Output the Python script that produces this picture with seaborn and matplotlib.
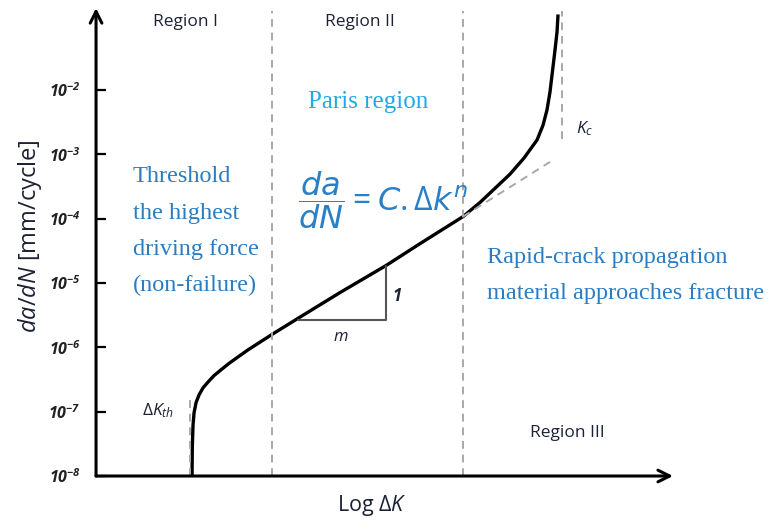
import numpy as np
import pandas as pd
import matplotlib
matplotlib.use("Agg")
import matplotlib.pyplot as plt
import seaborn as sns

# Fatigue crack growth curve: x is log(delta K) in arbitrary units, y is log10(da/dN)
curve_logk = [0.96, 0.963, 0.97, 0.98, 1.00, 1.03, 1.07, 1.12, 1.18, 1.25, 1.33,
              1.42, 1.52, 1.63, 1.76, 2.02, 2.44, 2.90, 3.24, 3.67, 3.84, 3.99,
              4.14, 4.28, 4.41, 4.47, 4.51, 4.54, 4.57, 4.59, 4.61, 4.62]
curve_log_rate = [-8.00, -7.53, -7.21, -7.02, -6.86, -6.74, -6.63, -6.54, -6.44,
                  -6.35, -6.25, -6.15, -6.04, -5.93, -5.80, -5.55, -5.15, -4.73,
                  -4.39, -3.97, -3.75, -3.53, -3.31, -3.06, -2.78, -2.55, -2.31,
                  -2.03, -1.64, -1.38, -1.10, -0.83]

# Paris-law extension beyond region II
paris_ext_logk = [3.67, 4.54]
paris_ext_log_rate = [-3.97, -3.12]

# Slope triangle (run m, rise 1)
tri_logk = [2.02, 2.90, 2.90]
tri_log_rate = [-5.58, -5.58, -4.73]

# Region boundaries and characteristic values
threshold_k = 0.94
region_bounds = [1.76, 3.67]
critical_k = 4.66

ytick_exps = [-2, -3, -4, -5, -6, -7, -8]
ytick_labels = [f"$10^{{{e}}}$" for e in ytick_exps]

blue = "#2b7cc0"
eq_blue = "#2a80c6"
cyan = "#1eaae6"
dark = "#1c2233"
grey = "#a8a8a8"

sns.set_theme(style="white")
plt.rcParams["font.family"] = ["Open Sans", "DejaVu Sans"]
plt.rcParams["mathtext.fontset"] = "custom"
plt.rcParams["mathtext.it"] = "Open Sans:italic"
plt.rcParams["mathtext.rm"] = "Open Sans"
plt.rcParams["mathtext.default"] = "regular"

fig = plt.figure(figsize=(7.72, 5.25), dpi=100)
ax = fig.add_axes([0.1244, 0.0933, 0.7474, 0.8914])

df = pd.DataFrame({"logk": curve_logk, "rate": 10.0 ** np.array(curve_log_rate)})
sns.lineplot(data=df, x="logk", y="rate", ax=ax, color="black", lw=2.4,
             sort=False, estimator=None, solid_joinstyle="round",
             solid_capstyle="butt")
ax.set_yscale("log")

ymin, ymax = 10 ** -8.0, 10 ** -0.73
ax.set_xlim(0, 5.77)
ax.set_ylim(ymin, ymax)

# dashed guides
dash = dict(color=grey, lw=1.4, ls=(0, (4, 3)))
for b in region_bounds:
    ax.plot([b, b], [ymin, 10 ** -0.78], **dash)
ax.plot([critical_k, critical_k], [10 ** -2.77, 10 ** -0.78], **dash)
ax.plot([threshold_k, threshold_k], [ymin, 10 ** -6.75], **dash)
ax.plot(paris_ext_logk, 10.0 ** np.array(paris_ext_log_rate), **dash)

# slope triangle
ax.plot(tri_logk, 10.0 ** np.array(tri_log_rate), color="#555555", lw=1.5)

# axes drawn as arrows
for s in ax.spines.values():
    s.set_visible(False)
for tip in [(0, 1.0), (1.0, 0)]:
    ax.annotate("", xy=tip, xytext=(0, 0), xycoords="axes fraction",
                arrowprops=dict(arrowstyle="->,head_length=0.7,head_width=0.35",
                                lw=2.2, color="black", shrinkA=0, shrinkB=0))

ax.set_xticks([])
ax.set_yticks([10.0 ** e for e in ytick_exps])
ax.set_yticklabels(ytick_labels, fontstyle="italic", fontweight="bold",
                   fontsize=11.5, color="#222222")
ax.yaxis.set_minor_locator(matplotlib.ticker.NullLocator())
ax.tick_params(axis="y", direction="in", length=7, width=1.6, color="black",
               pad=11, left=True)
ax.set_xlabel("")
ax.set_ylabel("")

# region labels
for x, v, s in [(0.89, -0.94, "Region I"), (2.64, -0.94, "Region II"),
                (4.71, -7.33, "Region III")]:
    ax.text(x, 10 ** v, s, ha="center", va="center", fontsize=12.5, color=dark)

serif = ["Liberation Serif", "DejaVu Serif"]
ax.text(2.72, 10 ** -2.19, "Paris region", ha="center", va="center", fontsize=18,
        color=cyan, family=serif)
ax.text(0.37, 10 ** -4.20, "Threshold\nthe highest\ndriving force\n(non-failure)",
        ha="left", va="center", fontsize=17.5, color=blue, family=serif,
        linespacing=1.95)
ax.text(3.91, 10 ** -4.88, "Rapid-crack propagation\nmaterial approaches fracture",
        ha="left", va="center", fontsize=17.5, color=blue, family=serif,
        linespacing=1.95)
ax.text(2.87, 10 ** -3.71, r"$\dfrac{\mathit{da}}{\mathit{dN}} = \mathit{C}.\Delta\mathit{k^{n}}$",
        ha="center", va="center", fontsize=23, color=eq_blue,
        math_fontfamily="dejavusans")

# annotations
ax.text(2.45, 10 ** -5.84, r"$\mathit{m}$", ha="center", va="center", fontsize=12,
        color=dark)
ax.text(3.01, 10 ** -5.20, "1", ha="center", va="center", fontsize=12,
        fontstyle="italic", fontweight="bold", color=dark)
ax.text(4.89, 10 ** -2.60, r"$\mathit{K_c}$", ha="center", va="center", fontsize=12.5,
        color=dark)
ax.text(0.62, 10 ** -6.99, r"$\mathit{\Delta K_{th}}$", ha="center", va="center",
        fontsize=12.5, color=dark)

fig.text(372 / 772, 1 - 505 / 525, r"Log $\mathit{\Delta K}$", ha="center",
         va="center", fontsize=15.5, color=dark)
fig.text(30 / 772, 1 - 236 / 525, r"$\mathit{da/dN}$ [mm/cycle]", ha="center",
         va="center", fontsize=17, rotation=90, color=dark)

fig.savefig("out.png", dpi=100)
